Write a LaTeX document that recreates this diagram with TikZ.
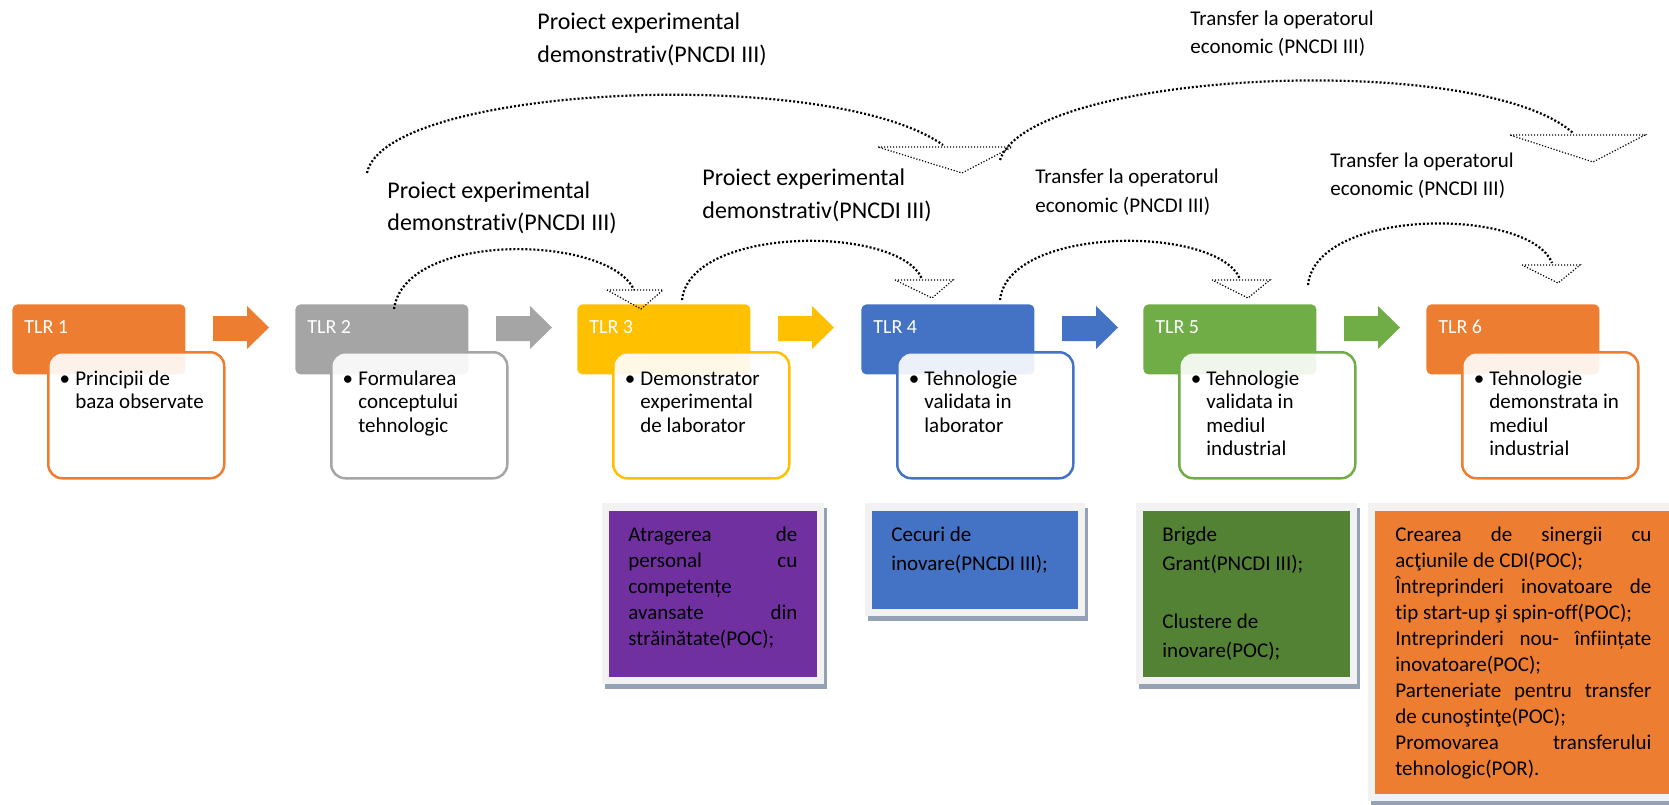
\documentclass[tikz,border=0pt]{standalone}
\usepackage{fontspec}
\setmainfont{Carlito}[Ligatures=NoCommon]
\definecolor{tOrange}{HTML}{ED7D31}
\definecolor{tGray}{HTML}{A5A5A5}
\definecolor{tGold}{HTML}{FFC000}
\definecolor{tBlue}{HTML}{4472C4}
\definecolor{tGreen}{HTML}{70AD47}
\definecolor{fPurple}{HTML}{7030A0}
\definecolor{fBlue}{HTML}{4472C4}
\definecolor{fGreen}{HTML}{548235}
\definecolor{fOrange}{HTML}{ED7D31}
\definecolor{frameGray}{HTML}{F2F2F2}
\definecolor{shadowGray}{HTML}{95A1B5}

\newcommand\lns[2]{\vtop{\baselineskip=#1\relax\lineskiplimit=-100pt\relax\lineskip=0pt\relax #2}}
\newcommand\jl[2]{\hbox to #1{#2}}

\newcommand\tlrstage[4]{%
  \node[hdrbox, fill=#3] (h#1) at (#2,304) {};
  \node[hdrtext] (ht#1) at (#2+12,333) {TLR #1};
  \node[bodybox, draw=#3] (b#1) at (#2+35,351) {};
  \node[bodytext] (bt#1) at (#2+63,385) {\lns{11.75pt}{#4}};
}
\newcommand\stagearrow[2]{%
  \fill[#2] (#1+201,316) -- (#1+235,316) -- (#1+235,306) -- (#1+257,327.5)
    -- (#1+235,349) -- (#1+235,341) -- (#1+201,341) -- cycle;
}
\newcommand\fundbox[5]{% inner x0 y0 x1 y1, colour
  \fill[shadowGray] (#1-4,#2-3) rectangle (#3+10,#4+12);
  \fill[frameGray] (#1-7,#2-8) rectangle (#3+7,#4+7);
  \fill[#5] (#1,#2) rectangle (#3,#4);
}

\begin{document}
\begin{tikzpicture}[x=0.5pt,y=-0.5pt,
  hdrbox/.style={anchor=north west, inner sep=0pt, minimum width=86.5pt, minimum height=35pt, rounded corners=2.5pt, draw=none},
  hdrtext/.style={anchor=base west, inner sep=0pt, text=white, font=\fontsize{10pt}{12pt}\selectfont},
  bodybox/.style={anchor=north west, inner sep=0pt, minimum width=88pt, minimum height=63pt, rounded corners=7pt, line width=1.25pt, fill=white, fill opacity=0.9},
  bodytext/.style={anchor=base west, inner sep=0pt, font=\fontsize{10.5pt}{11.75pt}\selectfont},
  fundtext/.style={anchor=base west, inner sep=0pt, text=black, font=\fontsize{10.5pt}{13pt}\selectfont},
  lblbig/.style={anchor=base west, inner sep=0pt, font=\fontsize{12pt}{16.5pt}\selectfont},
  lblsmall/.style={anchor=base west, inner sep=0pt, font=\fontsize{10.5pt}{14pt}\selectfont},
  dotarc/.style={line width=1.1pt, dash pattern=on 1pt off 1pt},
  dottri/.style={line width=0.6pt, dash pattern=on 0.6pt off 0.9pt}]
\useasboundingbox (0,0) rectangle (1669,804);

% stage arrows
\stagearrow{12}{tOrange}
\stagearrow{295}{tGray}
\stagearrow{577}{tGold}
\stagearrow{861}{tBlue}
\stagearrow{1143}{tGreen}

% stages
\tlrstage{1}{12}{tOrange}{\hbox{\llap{•\kern2.6pt}Principii de}\hbox{baza observate}}
\tlrstage{2}{295}{tGray}{\hbox{\llap{•\kern2.6pt}Formularea}\hbox{conceptului}\hbox{tehnologic}}
\tlrstage{3}{577}{tGold}{\hbox{\llap{•\kern2.6pt}Demonstrator}\hbox{experimental}\hbox{de laborator}}
\tlrstage{4}{861}{tBlue}{\hbox{\llap{•\kern2.6pt}Tehnologie}\hbox{validata in}\hbox{laborator}}
\tlrstage{5}{1143}{tGreen}{\hbox{\llap{•\kern2.6pt}Tehnologie}\hbox{validata in}\hbox{mediul}\hbox{industrial}}
\tlrstage{6}{1426}{tOrange}{\hbox{\llap{•\kern2.6pt}Tehnologie}\hbox{demonstrata in}\hbox{mediul}\hbox{industrial}}

% funding boxes
\fundbox{609}{511}{817}{677}{fPurple}
\node[fundtext] (fund3) at (628,541) {\lns{13pt}{\jl{84.5pt}{Atragerea\hfill de}\jl{84.5pt}{personal\hfill cu}\hbox{competențe}\jl{84.5pt}{avansate\hfill din}\hbox{străinătate(POC);}}};
\fundbox{872}{511}{1078}{609}{fBlue}
\node[fundtext] (fund4) at (891,541) {\lns{14.5pt}{\hbox{Cecuri de}\hbox{inovare(PNCDI III);}}};
\fundbox{1143}{511}{1350}{677}{fGreen}
\node[fundtext] (fund5) at (1162,541) {\lns{14.5pt}{\hbox{Brigde}\hbox{Grant(PNCDI III);}\hbox{}\hbox{Clustere de}\hbox{inovare(POC);}}};
\fundbox{1375}{511}{1690}{794}{fOrange}
\node[fundtext] (fund6) at (1395,541) {\lns{13pt}{%
  \jl{128pt}{Crearea\hfill de\hfill sinergii\hfill cu}%
  \hbox{acţiunile de CDI(POC);}%
  \jl{128pt}{Întreprinderi\hfill inovatoare\hfill de}%
  \hbox{tip start-up şi spin-off(POC);}%
  \jl{128pt}{Intreprinderi\hfill nou-\hfill înființate}%
  \hbox{inovatoare(POC);}%
  \jl{128pt}{Parteneriate\hfill pentru\hfill transfer}%
  \hbox{de cunoştinţe(POC);}%
  \jl{128pt}{Promovarea\hfill transferului}%
  \hbox{tehnologic(POR).}}};

% labels
\node[lblbig] (lblA) at (537,29) {\lns{16.5pt}{\hbox{Proiect experimental}\hbox{demonstrativ(PNCDI III)}}};
\node[lblbig] (lblB) at (387,198) {\lns{16pt}{\hbox{Proiect experimental}\hbox{demonstrativ(PNCDI III)}}};
\node[lblbig] (lblC) at (702,185) {\lns{16.5pt}{\hbox{Proiect experimental}\hbox{demonstrativ(PNCDI III)}}};
\node[lblsmall] (lblD) at (1190,25) {\lns{14pt}{\hbox{Transfer la operatorul}\hbox{economic (PNCDI III)}}};
\node[lblsmall] (lblE) at (1035,183) {\lns{14.5pt}{\hbox{Transfer la operatorul}\hbox{economic (PNCDI III)}}};
\node[lblsmall] (lblF) at (1330,167) {\lns{14pt}{\hbox{Transfer la operatorul}\hbox{economic (PNCDI III)}}};

% dotted curved arrows
\coordinate (aAs) at (367,173); \coordinate (aAe) at (943,145);
\draw[dotarc] (aAs) .. controls (385,85) and (830,65) .. (aAe);
\draw[dottri] (878,147) -- (1012,147) -- (962,173) -- cycle;

\coordinate (aBs) at (1000,160); \coordinate (aBe) at (1573,133);
\draw[dotarc] (aBs) .. controls (1030,70) and (1480,50) .. (aBe);
\draw[dottri] (1510,135) -- (1645,135) -- (1593,162) -- cycle;

\coordinate (a1s) at (394,309); \coordinate (a1e) at (634,290);
\draw[dotarc] (a1s) .. controls (405,230) and (610,235) .. (a1e);
\draw[dottri] (607,290) -- (663,290) -- (641,309) -- cycle;

\coordinate (a2s) at (682,300); \coordinate (a2e) at (922,279);
\draw[dotarc] (a2s) .. controls (690,225) and (900,225) .. (a2e);
\draw[dottri] (895,280) -- (953,280) -- (932,298) -- cycle;

\coordinate (a3s) at (1000,300); \coordinate (a3e) at (1240,279);
\draw[dotarc] (a3s) .. controls (1008,225) and (1218,225) .. (a3e);
\draw[dottri] (1212,280) -- (1270,280) -- (1248,298) -- cycle;

\coordinate (a4s) at (1308,285); \coordinate (a4e) at (1552,263);
\draw[dotarc] (a4s) .. controls (1316,207) and (1530,207) .. (a4e);
\draw[dottri] (1522,265) -- (1580,265) -- (1558,283) -- cycle;
\end{tikzpicture}
\end{document}
